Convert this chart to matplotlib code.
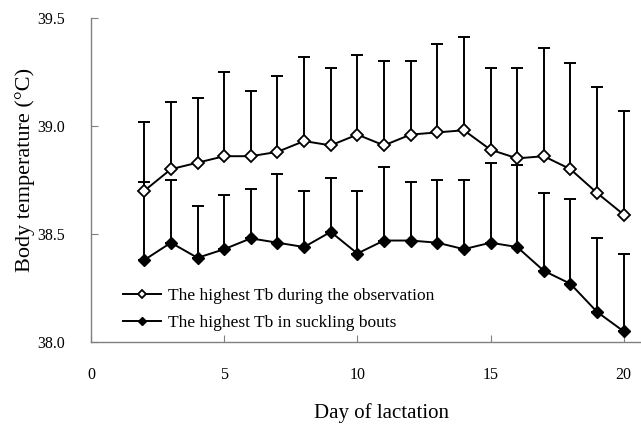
import matplotlib.pyplot as plt
import numpy as np

plt.rcParams['font.family'] = ['Liberation Serif', 'DejaVu Serif']

days = np.arange(2, 21)

# highest Tb during the observation (open diamonds)
obs_mean = [38.70, 38.80, 38.83, 38.86, 38.86, 38.88, 38.93, 38.91, 38.96, 38.91,
            38.96, 38.97, 38.98, 38.89, 38.85, 38.86, 38.80, 38.69, 38.59]
obs_top = [39.02, 39.11, 39.13, 39.25, 39.16, 39.23, 39.32, 39.27, 39.33, 39.30,
           39.30, 39.38, 39.41, 39.27, 39.27, 39.36, 39.29, 39.18, 39.07]

# highest Tb in suckling bouts (filled diamonds)
suck_mean = [38.38, 38.46, 38.39, 38.43, 38.48, 38.46, 38.44, 38.51, 38.41, 38.47,
             38.47, 38.46, 38.43, 38.46, 38.44, 38.33, 38.27, 38.14, 38.05]
suck_top = [38.74, 38.75, 38.63, 38.68, 38.71, 38.78, 38.70, 38.76, 38.70, 38.81,
            38.74, 38.75, 38.75, 38.83, 38.82, 38.69, 38.66, 38.48, 38.41]

obs_err = np.array(obs_top) - np.array(obs_mean)
suck_err = np.array(suck_top) - np.array(suck_mean)

fig = plt.figure(figsize=(6.41, 4.24), dpi=100)
ax = fig.add_axes([0.142, 0.193, 0.858, 0.765])

ax.errorbar(days, obs_mean, yerr=[np.zeros_like(obs_err), obs_err],
            fmt='none', ecolor='black', elinewidth=1.4, capsize=4.5, capthick=1.4)
ax.errorbar(days, suck_mean, yerr=[np.zeros_like(suck_err), suck_err],
            fmt='none', ecolor='black', elinewidth=1.4, capsize=4.5, capthick=1.4)

ax.plot(days, obs_mean, color='black', lw=1.4, marker='D', markersize=6,
        markerfacecolor='white', markeredgecolor='black', markeredgewidth=1.3,
        label='The highest Tb during the observation', zorder=3)
ax.plot(days, suck_mean, color='black', lw=1.4, marker='D', markersize=6,
        markerfacecolor='black', markeredgecolor='black',
        label='The highest Tb in suckling bouts', zorder=3)

ax.set_xlim(0, 20.65)
ax.set_ylim(38.0, 39.5)
ax.set_xticks([0, 5, 10, 15, 20])
ax.set_yticks([38.0, 38.5, 39.0, 39.5])
ax.set_yticklabels(['38.0', '38.5', '39.0', '39.5'])

for s in ['top', 'right']:
    ax.spines[s].set_visible(False)
for s in ['left', 'bottom']:
    ax.spines[s].set_color('#808080')
    ax.spines[s].set_linewidth(1.0)
ax.tick_params(direction='in', length=5, color='#808080', labelsize=11.5)
ax.tick_params(axis='y', pad=19)
ax.tick_params(axis='x', pad=18)

ax.set_xlabel('Day of lactation', fontsize=15)
ax.set_ylabel('Body temperature (°C)', fontsize=16)
ax.xaxis.set_label_coords(0.529, -0.188)
ax.yaxis.set_label_coords(-0.102, 0.531)

leg = ax.legend(loc='lower left', bbox_to_anchor=(0.03, -0.015), frameon=False,
                fontsize=12.5, handlelength=2.2, handletextpad=0.4,
                labelspacing=0.62, markerscale=0.75)

fig.savefig('out.png', dpi=100)
